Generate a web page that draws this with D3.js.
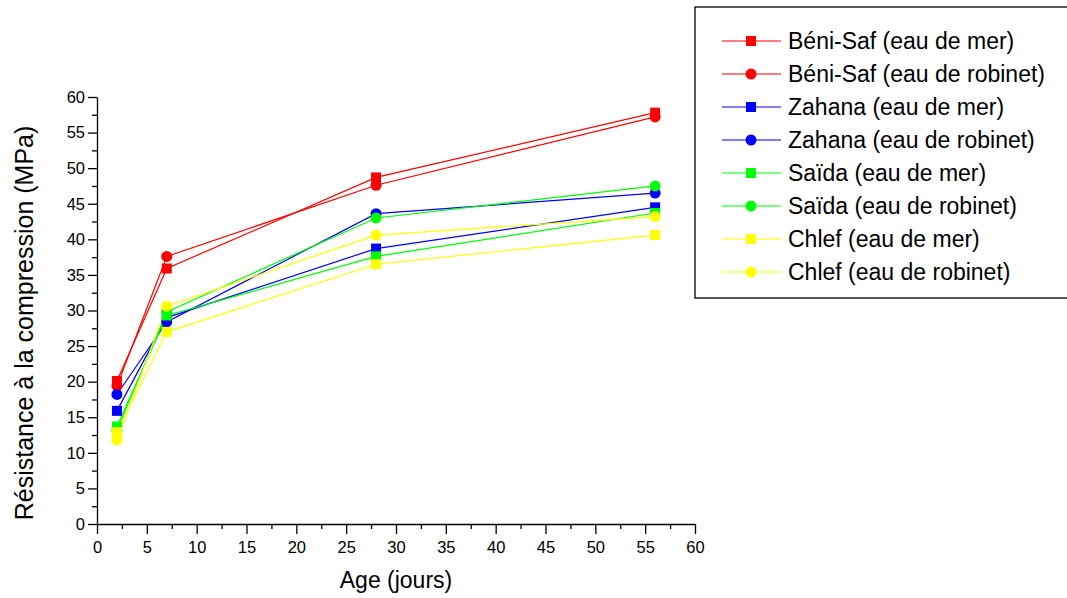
<!DOCTYPE html>
<html>
<head>
<meta charset="utf-8">
<script src="https://cdn.jsdelivr.net/npm/d3@7"></script>
<style>
  body { margin: 0; background: #fff; }
  text { font-family: "Liberation Sans", Arial, sans-serif; fill: #000; }
</style>
</head>
<body>
<div id="chart"></div>
<script>
const days = [2, 7, 28, 56];

const seriesNames = [
  "Béni-Saf (eau de mer)",
  "Béni-Saf (eau de robinet)",
  "Zahana (eau de mer)",
  "Zahana (eau de robinet)",
  "Saïda (eau de mer)",
  "Saïda (eau de robinet)",
  "Chlef (eau de mer)",
  "Chlef (eau de robinet)"
];

const beniSafMer = [20.1, 35.9, 48.7, 57.8];
const beniSafRobinet = [19.4, 37.6, 47.6, 57.2];
const zahanaMer = [15.9, 29.0, 38.7, 44.5];
const zahanaRobinet = [18.2, 28.4, 43.6, 46.5];
const saidaMer = [13.7, 29.3, 37.6, 43.7];
const saidaRobinet = [13.2, 29.8, 43.0, 47.5];
const chlefMer = [12.9, 27.0, 36.5, 40.6];
const chlefRobinet = [11.8, 30.6, 40.6, 43.2];

const seriesValues = [beniSafMer, beniSafRobinet, zahanaMer, zahanaRobinet,
  saidaMer, saidaRobinet, chlefMer, chlefRobinet];
const seriesColors = ["#ff0000", "#ff0000", "#0000ff", "#0000ff",
  "#00ff00", "#00ff00", "#ffff00", "#ffff00"];
const seriesShapes = ["square", "circle", "square", "circle",
  "square", "circle", "square", "circle"];

const xTicks = d3.range(0, 61, 5);
const yTicks = d3.range(0, 61, 5);

const width = 1067, height = 598;
const margin = { left: 97, right: 372, top: 97, bottom: 74 };

const svg = d3.select("#chart").append("svg").attr("width", width).attr("height", height);

const x = d3.scaleLinear().domain([0, 60]).range([margin.left, width - margin.right]);
const y = d3.scaleLinear().domain([0, 60]).range([height - margin.bottom, margin.top]);

// minor ticks
svg.append("g")
  .attr("transform", `translate(0,${y(0)})`)
  .call(d3.axisBottom(x).tickValues(d3.range(2.5, 60, 5)).tickSize(5).tickFormat(""))
  .call(g => g.select(".domain").remove());
svg.append("g")
  .attr("transform", `translate(${x(0)},0)`)
  .call(d3.axisLeft(y).tickValues(d3.range(2.5, 60, 5)).tickSize(5).tickFormat(""))
  .call(g => g.select(".domain").remove());

svg.append("g")
  .attr("transform", `translate(0,${y(0)})`)
  .call(d3.axisBottom(x).tickValues(xTicks).tickSize(10).tickSizeOuter(0).tickPadding(7));
svg.append("g")
  .attr("transform", `translate(${x(0)},0)`)
  .call(d3.axisLeft(y).tickValues(yTicks).tickSize(9).tickSizeOuter(0).tickPadding(3));

svg.selectAll(".tick text").style("font-size", "16.5px").style("font-family", "Liberation Sans, Arial, sans-serif");
svg.selectAll(".domain, .tick line").attr("stroke", "#000").attr("stroke-width", 1.3);

svg.append("text")
  .attr("x", x(30)).attr("y", 588)
  .attr("text-anchor", "middle")
  .style("font-size", "23px")
  .text("Age (jours)");

svg.append("text")
  .attr("transform", `translate(33,323) rotate(-90)`)
  .attr("text-anchor", "middle")
  .style("font-size", "25px")
  .text("Résistance à la compression (MPa)");

const line = d3.line().x((d, i) => x(days[i])).y(d => y(d));

function drawMarker(g, shape, color, cx, cy) {
  if (shape === "square") {
    g.append("rect").attr("x", cx - 5).attr("y", cy - 5).attr("width", 10).attr("height", 10)
      .attr("fill", color);
  } else {
    g.append("circle").attr("cx", cx).attr("cy", cy).attr("r", 5.5).attr("fill", color);
  }
}

const plot = svg.append("g");
seriesValues.forEach((vals, s) => {
  plot.append("path")
    .datum(vals)
    .attr("d", line)
    .attr("fill", "none")
    .attr("stroke", seriesColors[s])
    .attr("stroke-width", 1.2);
});
seriesValues.forEach((vals, s) => {
  const g = plot.append("g");
  vals.forEach((v, i) => drawMarker(g, seriesShapes[s], seriesColors[s], x(days[i]), y(v)));
});

// legend
const legend = svg.append("g");
legend.append("rect")
  .attr("x", 695).attr("y", 7).attr("width", 380).attr("height", 291)
  .attr("fill", "#fff").attr("stroke", "#000").attr("stroke-width", 1.3);

seriesNames.forEach((name, i) => {
  const ly = 41 + i * 33;
  legend.append("line")
    .attr("x1", 722).attr("x2", 781).attr("y1", ly).attr("y2", ly)
    .attr("stroke", seriesColors[i]).attr("stroke-width", 1.2);
  drawMarker(legend, seriesShapes[i], seriesColors[i], 751, ly);
  legend.append("text")
    .attr("x", 788).attr("y", ly + 8)
    .style("font-size", "23px")
    .text(name);
});
</script>
</body>
</html>
